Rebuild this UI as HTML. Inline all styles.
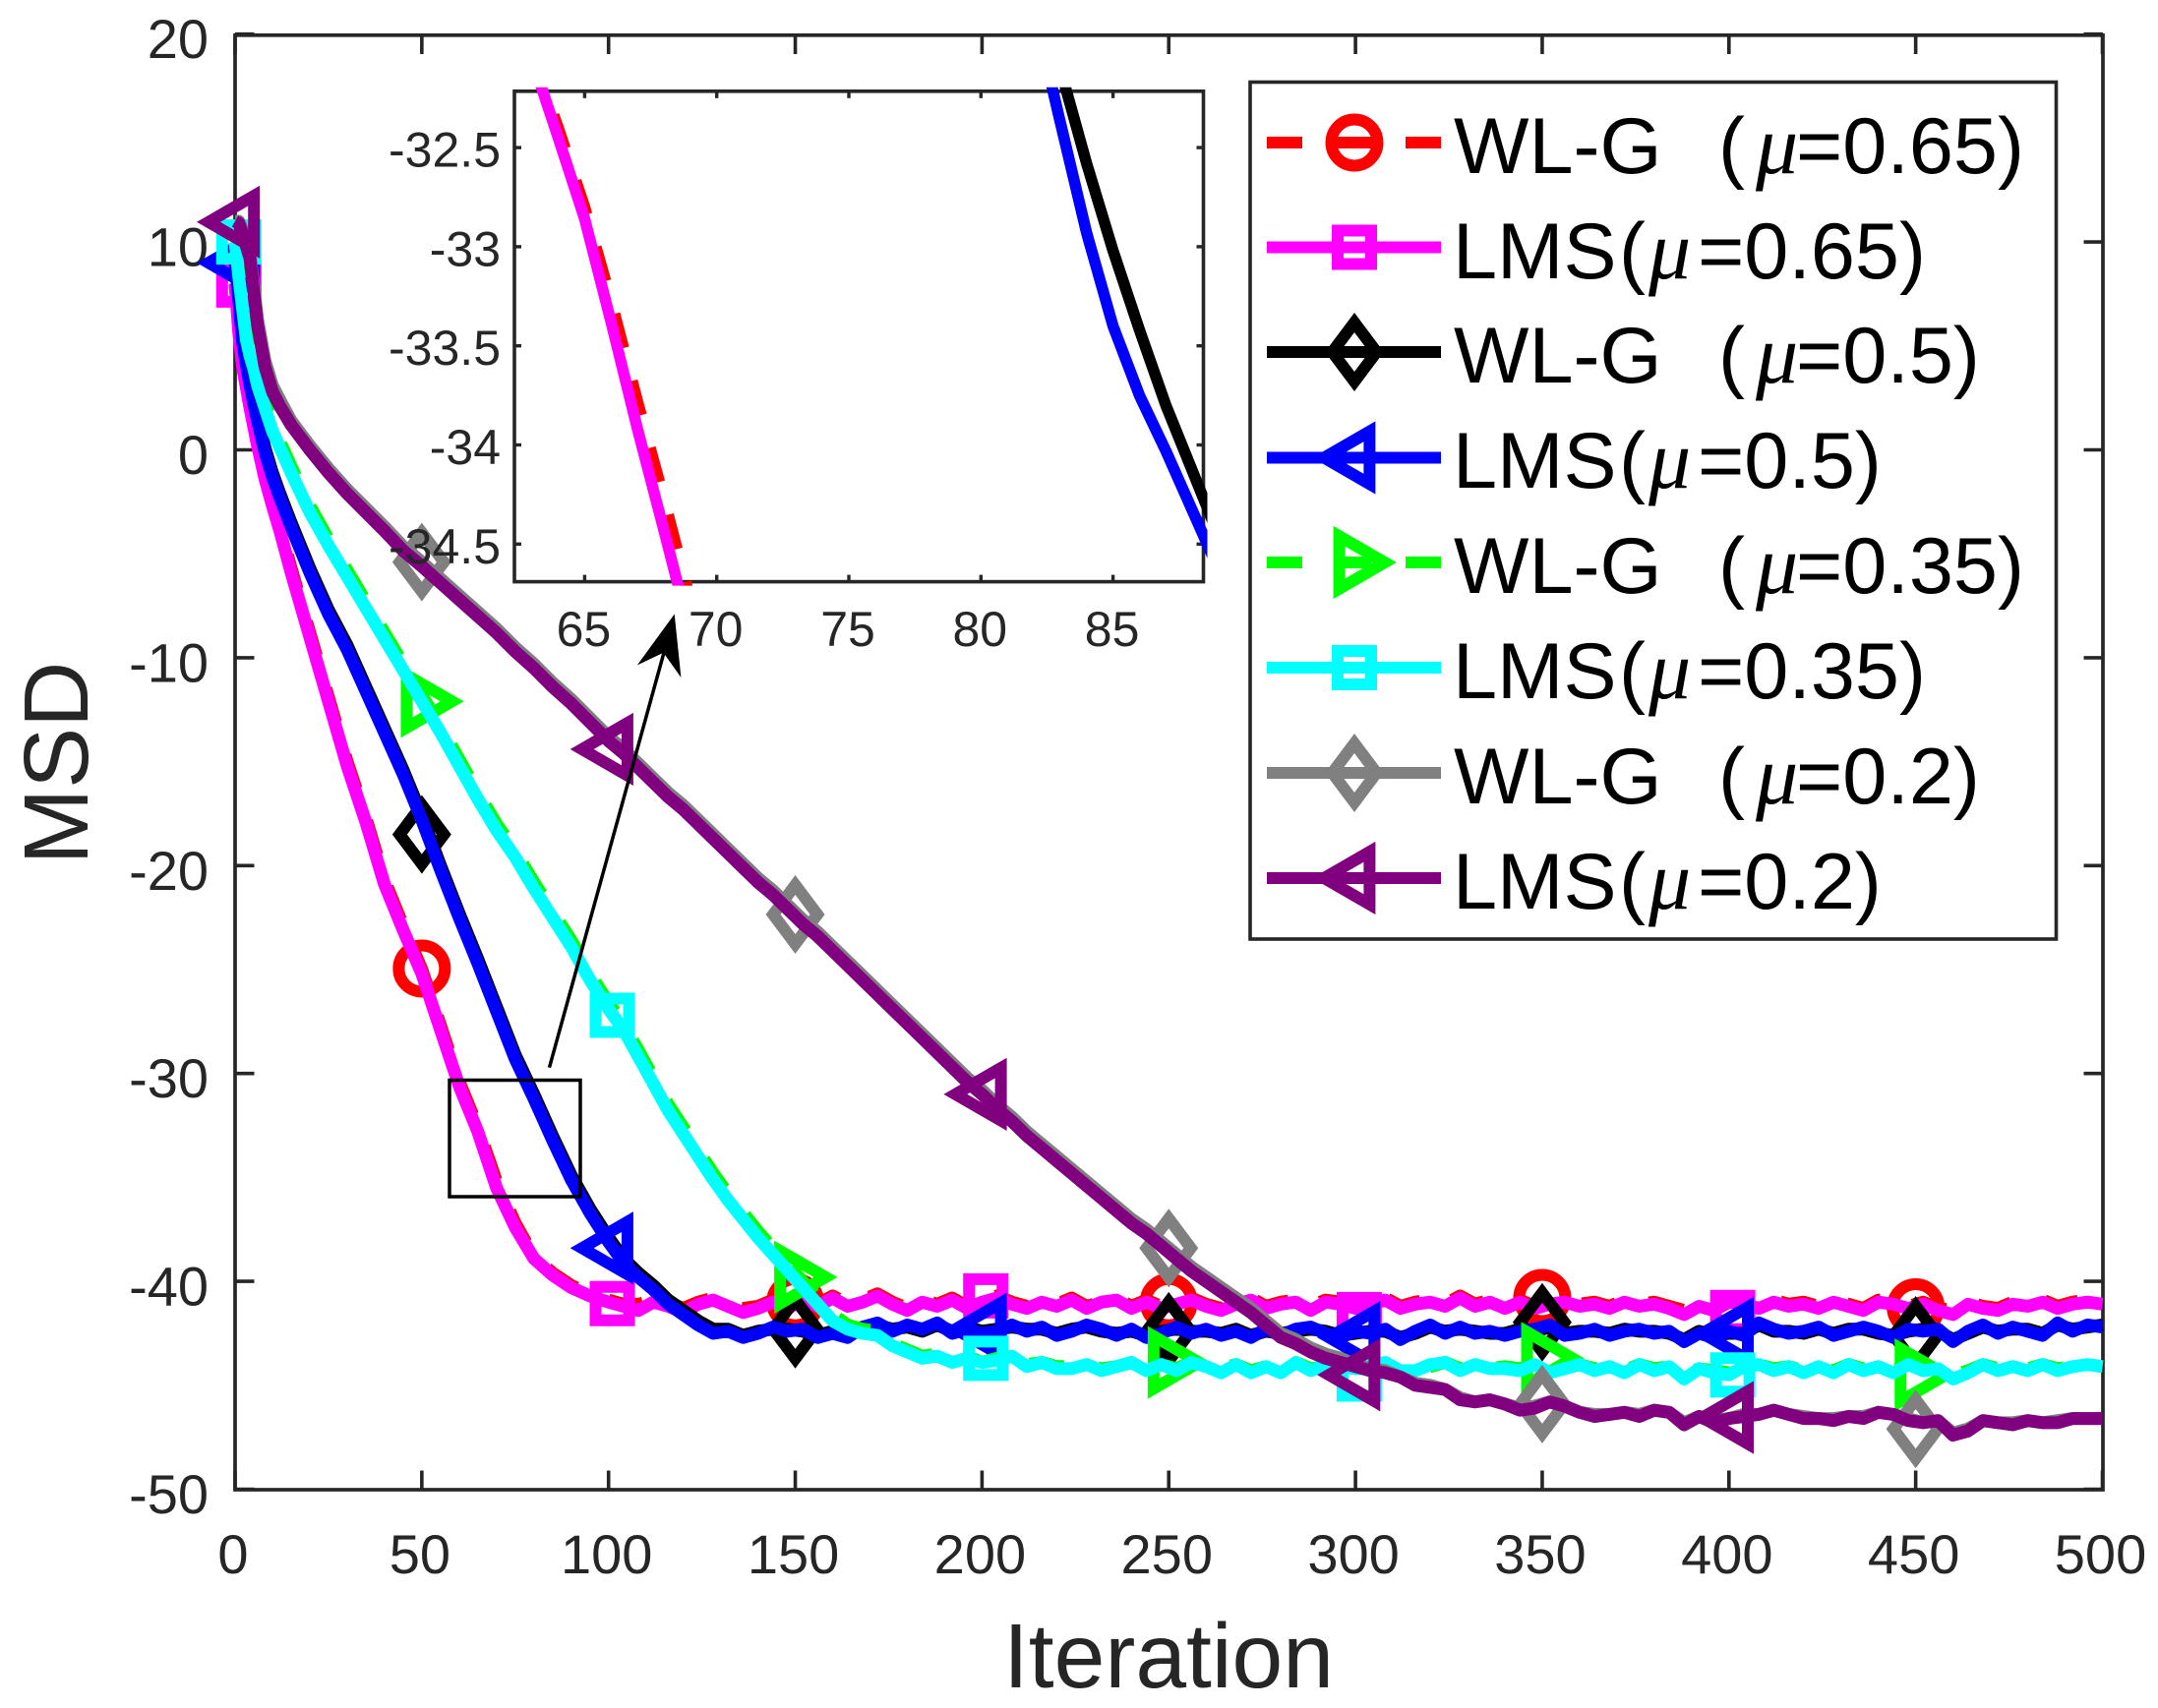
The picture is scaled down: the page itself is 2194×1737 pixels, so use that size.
<!DOCTYPE html>
<html lang="en">
<head>
<meta charset="utf-8">
<title>MSD vs Iteration</title>
<style>
html,body{margin:0;padding:0;background:#fff;}
svg{display:block;}
text{font-family:"Liberation Sans",Arial,sans-serif;}
.tick{fill:#262626;font-size:56px;}
.itick{fill:#262626;font-size:50px;}
.title{fill:#262626;font-size:93px;}
.leg{fill:#000;font-size:81px;}
.mu{font-family:"Liberation Serif","DejaVu Serif",serif;font-style:italic;font-size:86px;}
</style>
</head>
<body>
<svg id="chart" xmlns="http://www.w3.org/2000/svg" width="2194" height="1737" viewBox="0 0 2194 1737">
  <rect x="0" y="0" width="2194" height="1737" fill="#fff"/>
  <g id="mainAxes"></g>
  <text class="title" x="1188" y="1716" text-anchor="middle">Iteration</text>
  <text class="title" transform="translate(89,776) rotate(-90)" text-anchor="middle">MSD</text>
  <g id="mainSeries"></g>
  <g id="insetAxes"></g>
  <rect x="457" y="1098.5" width="133" height="118.5" fill="none" stroke="#000" stroke-width="3.5"/>
  <g>
    <line x1="558.5" y1="1085.7" x2="676" y2="660" stroke="#000" stroke-width="3.5"/>
    <polygon points="685.7,624.5 692.4,689 674.5,663.8 647.8,676.5" fill="#000"/>
  </g>
  <g>
    <rect x="1271" y="83.5" width="819.5" height="871.5" fill="#fff" stroke="#262626" stroke-width="3.6"/>
    <g id="legendKeys"></g>
    <text class="leg" y="176"><tspan x="1478">WL-G</tspan><tspan x="1747">(</tspan><tspan x="1785" class="mu">μ</tspan><tspan x="1826">=0.65)</tspan></text>
    <text class="leg" y="283"><tspan x="1477">LMS</tspan><tspan x="1646">(</tspan><tspan x="1676" class="mu">μ</tspan><tspan x="1726">=0.65)</tspan></text>
    <text class="leg" y="389"><tspan x="1478">WL-G</tspan><tspan x="1747">(</tspan><tspan x="1785" class="mu">μ</tspan><tspan x="1826">=0.5)</tspan></text>
    <text class="leg" y="496"><tspan x="1477">LMS</tspan><tspan x="1646">(</tspan><tspan x="1676" class="mu">μ</tspan><tspan x="1726">=0.5)</tspan></text>
    <text class="leg" y="603"><tspan x="1478">WL-G</tspan><tspan x="1747">(</tspan><tspan x="1785" class="mu">μ</tspan><tspan x="1826">=0.35)</tspan></text>
    <text class="leg" y="710"><tspan x="1477">LMS</tspan><tspan x="1646">(</tspan><tspan x="1676" class="mu">μ</tspan><tspan x="1726">=0.35)</tspan></text>
    <text class="leg" y="817"><tspan x="1478">WL-G</tspan><tspan x="1747">(</tspan><tspan x="1785" class="mu">μ</tspan><tspan x="1826">=0.2)</tspan></text>
    <text class="leg" y="924"><tspan x="1477">LMS</tspan><tspan x="1646">(</tspan><tspan x="1676" class="mu">μ</tspan><tspan x="1726">=0.2)</tspan></text>
  </g>
</svg>
<script>
// ---------- axis tick labels ----------
const xTickValues = [0,50,100,150,200,250,300,350,400,450,500];
const yTickValues = [20,10,0,-10,-20,-30,-40,-50];
const insetXTickValues = [65,70,75,80,85];
const insetYTickValues = [-32.5,-33,-33.5,-34,-34.5];
const insetYTickLabels = ['-32.5','-33','-33.5','-34','-34.5'];

// ---------- shared iteration grid ----------
const iterations = [
0,1,2,3,4,5,6,8,10,12,15,20,25,30,35,40,45,50,55,60,65,70,75,80,85,90,95,100,
104,108,112,116,120,124,128,132,136,140,
144,148,152,156,160,164,168,172,176,180,
184,188,192,196,200,204,208,212,216,220,
224,228,232,236,240,244,248,252,256,260,
264,268,272,276,280,284,288,292,296,300,
304,308,312,316,320,324,328,332,336,340,
344,348,352,356,360,364,368,372,376,380,
384,388,392,396,400,404,408,412,416,420,
424,428,432,436,440,444,448,452,456,460,
464,468,472,476,480,484,488,492,496,500];

// ---------- series values ----------
const wlg065 = [
8,5.8,4.2,3.2,2.2,1.3,0.4,-1.2,-2.5,-3.7,-5.7,-8.8,-11.9,-15.0,-17.7,-20.7,-22.9,-25.0,-27.7,-30.4,-32.6,-35.2,-37.2,-38.8,-39.6,-40.2,-40.6,-40.9,
-41.1,-41.1,-40.9,-41.0,-41.3,-41.0,-40.8,-41.1,-41.3,-41.2,
-40.9,-41.1,-40.8,-41.1,-40.7,-41.1,-40.9,-40.6,-41.0,-41.3,
-40.9,-41.1,-40.8,-41.2,-41.0,-40.7,-41.0,-41.2,-40.9,-41.1,
-40.8,-41.2,-41.0,-40.8,-41.2,-40.9,-41.2,-41.0,-40.8,-41.1,
-41.3,-41.0,-40.8,-41.2,-41.0,-40.9,-41.2,-40.9,-41.0,-41.2,
-41.0,-40.8,-41.2,-41.0,-40.9,-41.1,-40.7,-41.1,-40.9,-41.2,
-40.9,-41.2,-41.0,-40.9,-41.1,-41.0,-41.2,-40.9,-41.1,-41.0,
-41.2,-41.4,-41.1,-41.3,-40.9,-41.0,-41.2,-40.9,-41.1,-41.0,
-41.2,-40.9,-41.1,-41.3,-40.9,-41.0,-41.2,-41.0,-41.3,-41.4,
-41.0,-41.2,-41.3,-41.0,-41.1,-40.9,-41.2,-41.0,-40.9,-41.0];
const lms065 = [
8,5.6,4.0,3.0,2.0,1.1,0.2,-1.4,-2.7,-3.9,-5.9,-9.0,-12.1,-15.2,-17.9,-20.9,-23.1,-25.2,-27.9,-30.6,-32.8,-35.5,-37.4,-38.9,-39.7,-40.3,-40.7,-41.0,
-41.2,-41.4,-41.0,-41.2,-41.5,-41.1,-40.9,-41.2,-41.5,-41.3,
-41.0,-41.3,-40.9,-41.2,-40.8,-41.2,-41.0,-40.7,-41.1,-41.4,
-41.0,-41.2,-40.9,-41.3,-41.0,-40.8,-41.1,-41.3,-41.0,-41.2,
-40.9,-41.3,-41.0,-40.9,-41.3,-41.0,-41.3,-41.1,-40.9,-41.2,
-41.4,-41.1,-40.9,-41.3,-41.1,-41.0,-41.4,-41.0,-41.1,-41.3,
-41.1,-40.9,-41.3,-41.1,-41.0,-41.2,-40.8,-41.2,-41.0,-41.3,
-41.0,-41.3,-41.1,-41.0,-41.2,-41.1,-41.3,-41.0,-41.2,-41.1,
-41.3,-41.6,-41.2,-41.4,-41.0,-41.1,-41.3,-41.0,-41.2,-41.1,
-41.3,-41.0,-41.2,-41.4,-41.0,-41.1,-41.3,-41.1,-41.4,-41.6,
-41.1,-41.3,-41.4,-41.1,-41.2,-41.0,-41.3,-41.1,-41.0,-41.1];
const wlg05 = [
9,7.4,5.4,4.3,3.3,2.4,1.6,0.1,-1.1,-2.1,-3.5,-5.7,-7.7,-9.4,-11.4,-13.4,-15.4,-17.6,-20.0,-22.3,-24.5,-26.8,-29.1,-31.0,-33.0,-34.9,-36.5,-37.9,
-38.9,-39.6,-40.2,-40.9,-41.4,-41.9,-42.3,-42.3,-42.6,-42.4,
-42.3,-42.3,-42.4,-42.6,-42.4,-42.6,-42.3,-42.1,-42.3,-42.2,
-42.4,-42.1,-42.4,-42.2,-42.4,-42.3,-42.2,-42.3,-42.3,-42.5,
-42.3,-42.2,-42.4,-42.5,-42.4,-42.6,-42.4,-42.3,-42.4,-42.4,
-42.5,-42.3,-42.6,-42.4,-42.5,-42.4,-42.3,-42.4,-42.6,-42.5,
-42.4,-42.4,-42.7,-42.5,-42.2,-42.4,-42.3,-42.4,-42.5,-42.5,
-42.3,-42.4,-42.2,-42.5,-42.4,-42.4,-42.5,-42.3,-42.4,-42.4,
-42.5,-42.8,-42.4,-42.6,-42.5,-42.5,-42.1,-42.4,-42.4,-42.5,
-42.3,-42.5,-42.3,-42.3,-42.5,-42.6,-42.4,-42.3,-42.4,-42.8,
-42.5,-42.2,-42.4,-42.3,-42.3,-42.5,-42.1,-42.3,-42.2,-42.1];
const lms05 = [
9,7.2,5.2,4.1,3.1,2.2,1.4,-0.1,-1.3,-2.3,-3.7,-5.9,-7.9,-9.6,-11.6,-13.6,-15.6,-17.8,-20.2,-22.5,-24.7,-27.0,-29.3,-31.2,-33.2,-35.1,-36.7,-38.1,
-39.1,-39.8,-40.4,-41.1,-41.6,-42.1,-42.5,-42.4,-42.7,-42.5,
-42.2,-42.4,-42.3,-42.7,-42.5,-42.7,-42.2,-42.0,-42.4,-42.1,
-42.3,-42.0,-42.5,-42.3,-42.5,-42.4,-42.1,-42.4,-42.2,-42.6,
-42.4,-42.1,-42.3,-42.6,-42.3,-42.7,-42.5,-42.2,-42.5,-42.3,
-42.6,-42.4,-42.7,-42.3,-42.6,-42.3,-42.2,-42.5,-42.7,-42.4,
-42.5,-42.3,-42.8,-42.4,-42.1,-42.5,-42.2,-42.5,-42.4,-42.6,
-42.4,-42.3,-42.1,-42.6,-42.5,-42.3,-42.6,-42.4,-42.3,-42.5,
-42.4,-42.9,-42.5,-42.7,-42.4,-42.6,-42.0,-42.3,-42.5,-42.4,
-42.2,-42.6,-42.4,-42.2,-42.4,-42.7,-42.3,-42.4,-42.3,-42.9,
-42.4,-42.1,-42.5,-42.2,-42.4,-42.6,-42.0,-42.4,-42.1,-42.2];
const wlg035 = [
10,8.5,7.0,5.6,4.8,4.2,3.4,2.3,1.2,0.4,-0.8,-2.7,-4.3,-5.8,-7.3,-8.8,-10.3,-11.8,-13.3,-14.9,-16.5,-18.0,-19.3,-20.8,-22.2,-23.6,-25.2,-26.6,
-27.6,-28.9,-30.2,-31.5,-32.6,-33.7,-34.8,-35.8,-36.7,-37.6,
-38.4,-39.2,-40.0,-40.8,-41.6,-42.1,-42.3,-42.4,-43.0,-43.3,
-43.6,-43.5,-43.8,-43.6,-43.9,-43.7,-43.6,-44.0,-43.9,-44.1,
-44.1,-44.0,-44.2,-44.1,-43.9,-44.2,-44.0,-44.2,-43.9,-44.1,
-44.2,-44.0,-44.3,-44.1,-44.3,-43.9,-44.2,-44.1,-44.0,-44.2,
-44.1,-44.0,-44.3,-44.2,-44.1,-43.9,-44.2,-44.0,-44.2,-44.1,
-44.2,-44.0,-44.3,-44.2,-44.0,-44.2,-44.1,-44.3,-44.0,-44.2,
-44.1,-44.5,-44.2,-44.3,-44.4,-44.1,-44.0,-44.2,-44.1,-44.3,
-44.1,-44.3,-44.0,-44.2,-44.1,-44.3,-44.0,-44.2,-44.2,-44.5,
-44.3,-44.0,-44.2,-44.1,-44.2,-44.0,-44.2,-44.1,-44.0,-44.1];
const lms035 = [
10,8.3,6.8,5.3,4.5,3.9,3.1,2.0,0.9,0.1,-1.1,-3.0,-4.6,-6.1,-7.6,-9.1,-10.6,-12.1,-13.6,-15.2,-16.8,-18.3,-19.6,-21.1,-22.5,-23.9,-25.5,-26.9,
-27.9,-29.2,-30.5,-31.8,-32.9,-34.0,-35.1,-36.1,-37.0,-37.9,
-38.7,-39.5,-40.3,-41.1,-41.9,-42.3,-42.5,-42.6,-43.1,-43.4,
-43.7,-43.6,-43.9,-43.7,-43.9,-43.8,-43.6,-44.1,-43.9,-44.2,
-44.2,-44.0,-44.3,-44.1,-43.9,-44.3,-44.0,-44.3,-43.9,-44.1,
-44.4,-44.0,-44.4,-44.1,-44.4,-43.9,-44.3,-44.0,-44.1,-44.2,
-44.2,-43.9,-44.3,-44.3,-44.0,-43.9,-44.3,-44.0,-44.2,-44.2,
-44.3,-44.0,-44.4,-44.2,-44.0,-44.3,-44.1,-44.4,-44.0,-44.3,
-44.1,-44.7,-44.2,-44.4,-44.5,-44.1,-44.0,-44.3,-44.1,-44.4,
-44.1,-44.4,-44.0,-44.3,-44.1,-44.4,-44.0,-44.3,-44.2,-44.7,
-44.4,-44.0,-44.3,-44.1,-44.3,-44.0,-44.3,-44.1,-44.0,-44.1];
const wlg02 = [
11,11,10.6,10,9.4,7.9,6.3,4.3,3.1,2.4,1.4,0.2,-0.9,-1.9,-2.8,-3.7,-4.65,-5.4,-6.2,-7.0,-7.8,-8.6,-9.5,-10.3,-11.2,-12.0,-12.9,-13.8,
-14.4,-15.1,-15.8,-16.5,-17.1,-17.8,-18.5,-19.2,-19.9,-20.6,
-21.2,-21.9,-22.6,-23.2,-23.9,-24.6,-25.3,-26.0,-26.7,-27.4,
-28.1,-28.8,-29.5,-30.2,-30.8,-31.5,-32.1,-32.8,-33.4,-34.0,
-34.6,-35.2,-35.8,-36.4,-37.0,-37.5,-38.1,-38.7,-39.3,-39.8,
-40.3,-40.8,-41.3,-41.9,-42.5,-42.8,-43.2,-43.5,-43.7,-44.0,
-44.2,-44.3,-44.6,-44.9,-45.0,-45.2,-45.6,-45.8,-45.7,-45.9,
-46.1,-46.0,-45.8,-46.0,-46.3,-46.4,-46.4,-46.3,-46.4,-46.2,
-46.3,-46.8,-46.5,-46.7,-46.6,-46.4,-46.4,-46.2,-46.4,-46.5,
-46.6,-46.6,-46.5,-46.5,-46.3,-46.4,-46.6,-46.8,-46.7,-47.3,
-47.1,-46.7,-46.8,-46.8,-46.7,-46.8,-46.7,-46.6,-46.6,-46.6];
const lms02 = [
11,10.9,10.4,9.8,9.2,7.6,6.0,4.0,2.8,2.1,1.2,0.0,-1.1,-2.1,-3.0,-3.9,-4.85,-5.6,-6.4,-7.2,-8.0,-8.8,-9.7,-10.5,-11.4,-12.2,-13.1,-14.0,
-14.6,-15.3,-16.0,-16.7,-17.3,-18.0,-18.7,-19.4,-20.1,-20.8,
-21.4,-22.1,-22.8,-23.4,-24.1,-24.8,-25.5,-26.2,-26.9,-27.6,
-28.3,-29.0,-29.7,-30.4,-31.0,-31.7,-32.3,-33.0,-33.6,-34.2,
-34.8,-35.4,-36.0,-36.6,-37.2,-37.7,-38.3,-38.9,-39.5,-40.0,
-40.5,-41.0,-41.5,-42.1,-42.7,-43.0,-43.4,-43.7,-43.9,-44.1,
-44.3,-44.4,-44.6,-45.0,-45.1,-45.2,-45.7,-45.8,-45.7,-45.9,
-46.2,-46.1,-45.8,-46.0,-46.3,-46.5,-46.4,-46.3,-46.5,-46.2,
-46.3,-46.9,-46.5,-46.8,-46.6,-46.5,-46.4,-46.2,-46.4,-46.6,
-46.6,-46.7,-46.5,-46.6,-46.3,-46.4,-46.7,-46.8,-46.7,-47.4,
-47.2,-46.7,-46.8,-46.9,-46.7,-46.8,-46.8,-46.6,-46.6,-46.6];

// ---------- marker positions ----------
const wlgMarkerIters = [50,150,250,350,450];
const lmsMarkerIters = [1,101,201,301,401];
const wlg065Markers = [-24.95,-41,-41,-40.8,-41.25];
const lms065Markers = [7.93,-41.07,-40.7,-41.6,-41.5];
const wlg05Markers = [-18.5,-42.3,-42.4,-41.97,-42.6];
const lms05Markers = [9,-38.4,-42.3,-42.7,-42.5];
const wlg035Markers = [-12.1,-39.8,-43.9,-43.7,-44.5];
const lms035Markers = [10,-27.2,-43.7,-44.7,-44.5];
const wlg02Markers = [-5.4,-22.35,-38.4,-45.9,-47.1];
const lms02Markers = [10.96,-14.4,-31,-44.5,-46.55];

// ---------- inset values ----------
const insetIterLow = [62,63,64,65,66,67,68,69,70];
const insetIterHigh = [82,83,84,85,86,87,88,89];
const insetWlg065 = [-31.68,-32.03,-32.4,-32.8,-33.27,-33.78,-34.27,-34.78,-35.3];
const insetLms065 = [-31.7,-32.05,-32.45,-32.86,-33.38,-33.92,-34.43,-34.95,-35.4];
const insetWlg05 = [-31.65,-32.1,-32.58,-33.02,-33.42,-33.8,-34.13,-34.46];
const insetLms05 = [-31.8,-32.37,-32.93,-33.4,-33.75,-34.03,-34.33,-34.63];

// ---------- scales ----------
const xScale = it => 239 + 3.797 * it;
const yScale = v => 457.5 - 21.14 * v;
const ixScale = it => 594.4 + 26.86 * (it - 65);
const iyScale = v => 150.1 + 201.6 * (-32.5 - v);

const NS = 'http://www.w3.org/2000/svg';
const INK = '#262626';
const SW = 13;
const ISW = 11.5;
const LSW = 12;
const MSW = 12;
const DASH = '36 34.5';

function mk(tag, parent, attrs) {
  const e = document.createElementNS(NS, tag);
  for (const k in attrs) e.setAttribute(k, attrs[k]);
  parent.appendChild(e);
  return e;
}
function pathOf(xs, ys, fx, fy) {
  return xs.map((x, i) => (i ? 'L' : 'M') + fx(x).toFixed(2) + ' ' + fy(ys[i]).toFixed(2)).join('');
}
function drawMarker(kind, cx, cy, color, parent) {
  const base = {fill: 'none', stroke: color, 'stroke-width': MSW, 'stroke-miterlimit': 10};
  if (kind === 'circle') {
    return mk('circle', parent, Object.assign({cx: cx, cy: cy, r: 23.5}, base));
  }
  let pts;
  if (kind === 'square') {
    pts = [[-17,-17],[17,-17],[17,17],[-17,17]];
  } else if (kind === 'diamond') {
    pts = [[0,-30],[22.5,0],[0,30],[-22.5,0]];
  } else if (kind === 'left') {
    pts = [[-30.8,0],[15.4,-26.7],[15.4,26.7]];
  } else {
    pts = [[30.8,0],[-15.4,-26.7],[-15.4,26.7]];
  }
  const s = pts.map(p => (cx + p[0]).toFixed(2) + ',' + (cy + p[1]).toFixed(2)).join(' ');
  return mk('polygon', parent, Object.assign({points: s}, base));
}

// ---------- main axes ----------
const mainAxes = document.getElementById('mainAxes');
const frame = mk('rect', mainAxes, {x: 239, y: 35.8, width: 1899, height: 1479.2, fill: '#fff', stroke: INK, 'stroke-width': 3.7});


xTickValues.forEach(v => {
  const x = xScale(v);
  const tb = mk('line', mainAxes, {x1: x, x2: x, y1: 1515, y2: 1495.5, stroke: INK, 'stroke-width': 3.6});
  
  
  const tt = mk('line', mainAxes, {x1: x, x2: x, y1: 35.8, y2: 55, stroke: INK, 'stroke-width': 3.6});
  
  
  const lb = mk('text', mainAxes, {x: x - 2, y: 1600, 'text-anchor': 'middle', class: 'tick'});
  lb.textContent = String(v);
  
  
});
yTickValues.forEach(v => {
  const y = yScale(v);
  const tl = mk('line', mainAxes, {x1: 239, x2: 258.5, y1: y, y2: y, stroke: INK, 'stroke-width': 3.6});
  
  
  const tr = mk('line', mainAxes, {x1: 2138, x2: 2118.5, y1: y, y2: y, stroke: INK, 'stroke-width': 3.6});
  
  
  const lb = mk('text', mainAxes, {x: 212, y: y + 24.5, 'text-anchor': 'end', class: 'tick'});
  lb.textContent = String(v);
  
  
});

// ---------- series ----------
const seriesDefs = [
  {id: 'wlg-065', vals: wlg065, color: '#ff0000', dash: true,  kind: 'circle',  mi: wlgMarkerIters, mv: wlg065Markers},
  {id: 'lms-065', vals: lms065, color: '#ff00ff', dash: false, kind: 'square',  mi: lmsMarkerIters, mv: lms065Markers},
  {id: 'wlg-05',  vals: wlg05,  color: '#000000', dash: false, kind: 'diamond', mi: wlgMarkerIters, mv: wlg05Markers},
  {id: 'lms-05',  vals: lms05,  color: '#0000ff', dash: false, kind: 'left',    mi: lmsMarkerIters, mv: lms05Markers},
  {id: 'wlg-035', vals: wlg035, color: '#00ff00', dash: true,  kind: 'right',   mi: wlgMarkerIters, mv: wlg035Markers},
  {id: 'lms-035', vals: lms035, color: '#00ffff', dash: false, kind: 'square',  mi: lmsMarkerIters, mv: lms035Markers},
  {id: 'wlg-02',  vals: wlg02,  color: '#808080', dash: false, kind: 'diamond', mi: wlgMarkerIters, mv: wlg02Markers},
  {id: 'lms-02',  vals: lms02,  color: '#800080', dash: false, kind: 'left',    mi: lmsMarkerIters, mv: lms02Markers}
];
const mainSeries = document.getElementById('mainSeries');
const legendKeys = document.getElementById('legendKeys');
const legendRowY = [145, 251.5, 358, 465.5, 572, 679, 786, 893];
seriesDefs.forEach((s, idx) => {
  const g = mk('g', mainSeries, {});
  
  
  const attrs = {d: pathOf(iterations, s.vals, xScale, yScale), fill: 'none', stroke: s.color, 'stroke-width': SW, 'stroke-linejoin': 'round'};
  if (s.dash) attrs['stroke-dasharray'] = DASH;
  const line = mk('path', g, attrs);
  
  
  s.mi.forEach((it, i) => {
    const m = drawMarker(s.kind, xScale(it), yScale(s.mv[i]), s.color, g);
    
    
  });
  // legend key
  const ly = legendRowY[idx];
  const kAttrs = {x1: 1288, x2: 1465, y1: ly, y2: ly, stroke: s.color, 'stroke-width': LSW};
  if (s.dash) kAttrs['stroke-dasharray'] = DASH;
  const kl = mk('line', legendKeys, kAttrs);
  
  
  const km = drawMarker(s.kind, 1377, ly, s.color, legendKeys);
  
  
});

// ---------- inset ----------
const insetAxes = document.getElementById('insetAxes');
const L = 523, R = 1223.5, T = 92.8, B = 591.6;
const insetBg = mk('rect', insetAxes, {x: L, y: T, width: R - L, height: B - T, fill: '#fff', stroke: INK, 'stroke-width': 3.6});


insetXTickValues.forEach(v => {
  const x = ixScale(v);
  const a = mk('line', insetAxes, {x1: x, x2: x, y1: B, y2: B - 7, stroke: INK, 'stroke-width': 3.4});
  
  
  const b = mk('line', insetAxes, {x1: x, x2: x, y1: T, y2: T + 7, stroke: INK, 'stroke-width': 3.4});
  
  
  const lb = mk('text', insetAxes, {x: x - 1, y: 657, 'text-anchor': 'middle', class: 'itick'});
  lb.textContent = String(v);
  
  
});
insetYTickValues.forEach((v, i) => {
  const y = iyScale(v);
  const a = mk('line', insetAxes, {x1: L, x2: L + 7, y1: y, y2: y, stroke: INK, 'stroke-width': 3.4});
  
  
  const b = mk('line', insetAxes, {x1: R, x2: R - 7, y1: y, y2: y, stroke: INK, 'stroke-width': 3.4});
  
  
  const lb = mk('text', insetAxes, {x: 509, y: y + 19.5, 'text-anchor': 'end', class: 'itick'});
  lb.textContent = insetYTickLabels[i];
  
  
});
const defs = mk('defs', insetAxes, {});
const clip = mk('clipPath', defs, {id: 'insetClip'});
mk('rect', clip, {x: L - 4, y: T - 4, width: R - L + 8, height: B - T + 8});
const insetGroup = mk('g', insetAxes, {'clip-path': 'url(#insetClip)'});


const insetDefs = [
  {id: 'wlg-065', xs: insetIterLow,  vals: insetWlg065, color: '#ff0000', dash: true},
  {id: 'lms-065', xs: insetIterLow,  vals: insetLms065, color: '#ff00ff', dash: false},
  {id: 'wlg-05',  xs: insetIterHigh, vals: insetWlg05,  color: '#000000', dash: false},
  {id: 'lms-05',  xs: insetIterHigh, vals: insetLms05,  color: '#0000ff', dash: false}
];
insetDefs.forEach(s => {
  const attrs = {d: pathOf(s.xs, s.vals, ixScale, iyScale), fill: 'none', stroke: s.color, 'stroke-width': ISW, 'stroke-linejoin': 'round'};
  if (s.dash) attrs['stroke-dasharray'] = DASH;
  const p = mk('path', insetGroup, attrs);
  
  
});
</script>
</body>
</html>
